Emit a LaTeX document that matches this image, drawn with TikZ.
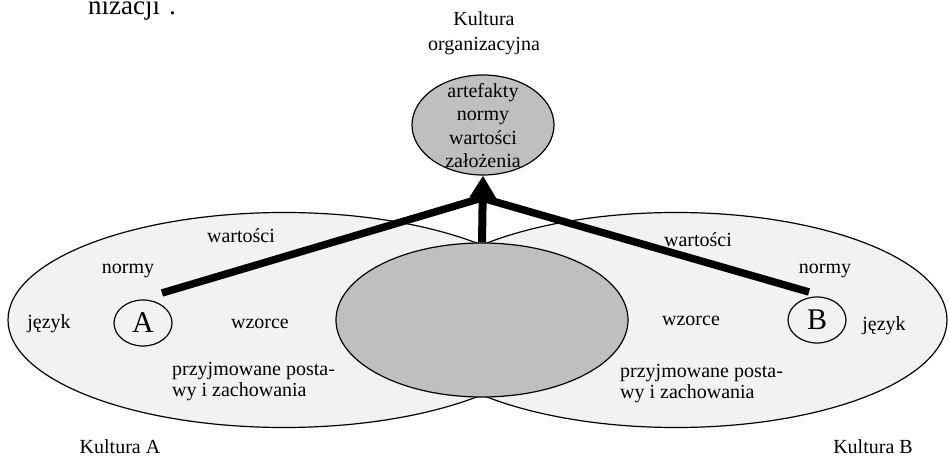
\documentclass[tikz,border=0pt]{standalone}
\usepackage{fontspec}
\setmainfont{Liberation Serif}
\usetikzlibrary{shapes.geometric,arrows.meta,backgrounds}
\definecolor{lightfill}{RGB}{242,242,242}
\definecolor{darkfill}{RGB}{191,191,191}
\begin{document}
\begin{tikzpicture}[x=1pt,y=-1pt,
  txt/.style={inner sep=0pt,font=\fontsize{20}{21}\selectfont},
  culture/.style={ellipse,draw,line width=1.2pt,inner sep=0pt},
  shared/.style={ellipse,draw,line width=1.2pt,fill=darkfill,inner sep=0pt},
  letterbox/.style={ellipse,draw,line width=1.2pt,inner sep=0pt,minimum width=58pt,minimum height=46pt,font=\fontsize{30}{30}\selectfont},
  thick link/.style={line width=7.5pt,line join=miter},
  up arrow/.style={line width=8pt,-{Triangle[width=25pt,length=22pt]}}
]
\useasboundingbox (0,0) rectangle (948,457);

% culture ellipses
\node[culture,minimum width=552pt,minimum height=215pt] (cultA) at (284,320) {};
\node[culture,minimum width=542pt,minimum height=215pt] (cultB) at (676,320) {};
\begin{pgfonlayer}{background}
  \fill[lightfill] (cultA.center) ellipse [x radius=276pt, y radius=107.5pt];
  \fill[lightfill] (cultB.center) ellipse [x radius=271pt, y radius=107.5pt];
\end{pgfonlayer}
\node[shared,minimum width=292pt,minimum height=154pt] (common) at (482,320) {};

% organisational culture
\node[shared,minimum width=142pt,minimum height=100pt] (org) at (483,125) {};
\node[txt,align=center,font=\fontsize{20}{23.3}\selectfont] (orgtxt) at (483,125.6) {artefakty\\normy\\wartości\\założenia};
\node[txt,align=center,font=\fontsize{20}{25}\selectfont] (orgtitle) at (484,33) {Kultura\\organizacyjna};

% letters
\node[letterbox] (A) at (143,323) {A};
\node[letterbox] (B) at (817,320) {B};

% connectors
\coordinate (apex) at (482,198);
\coordinate (fromA) at (162,293);
\coordinate (fromB) at (809,292);
\draw[thick link] (fromA) -- (apex) -- (fromB);
\draw[up arrow] (common.north) -- (org.south);

% labels culture A
\node[txt,anchor=base] (wA) at (241,243) {wartości};
\node[txt,anchor=base] (nA) at (128,273) {normy};
\node[txt,anchor=base] (jA) at (49,328) {język};
\node[txt,anchor=base] (zA) at (260,328) {wzorce};
\node[txt,align=left,anchor=north west] (pA) at (172,362.5) {przyjmowane posta-\\wy i zachowania};
\node[txt,anchor=base] (kA) at (120,453) {Kultura A};

% labels culture B
\node[txt,anchor=base] (wB) at (698,247) {wartości};
\node[txt,anchor=base] (nB) at (825,273) {normy};
\node[txt,anchor=base] (jB) at (884,330) {język};
\node[txt,anchor=base] (zB) at (691,325) {wzorce};
\node[txt,align=left,anchor=north west] (pB) at (620,364.5) {przyjmowane posta-\\wy i zachowania};
\node[txt,anchor=base] (kB) at (873,453) {Kultura B};

% cut-off text at top
\node[inner sep=0pt,anchor=base west,font=\fontsize{27}{27}\selectfont] (top) at (88,14.5) {nizacji\hspace{9pt}.};
\end{tikzpicture}
\end{document}
